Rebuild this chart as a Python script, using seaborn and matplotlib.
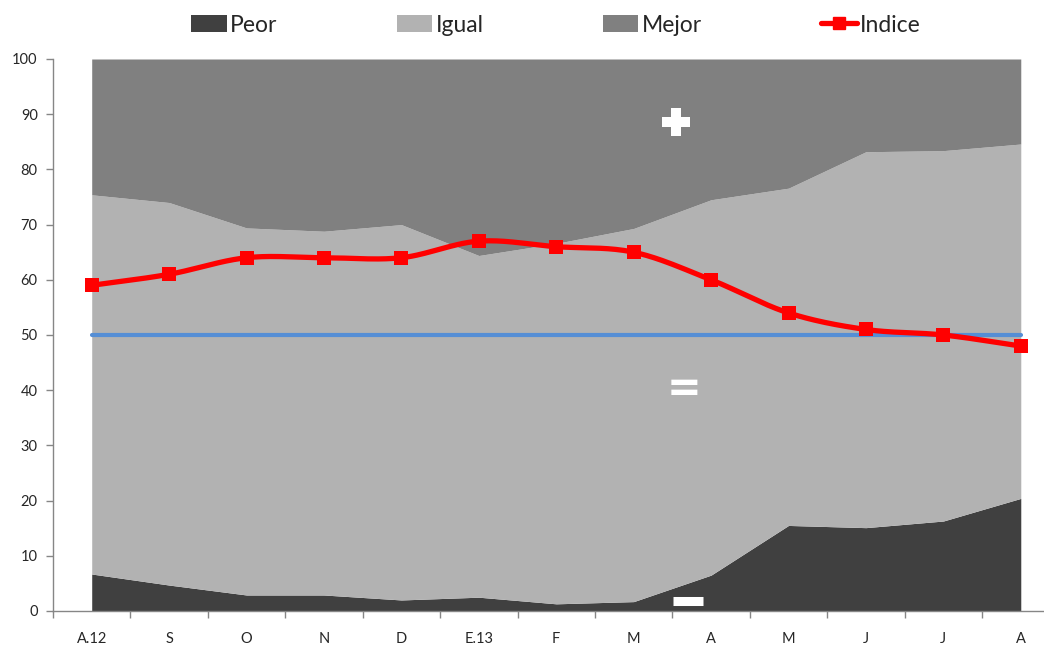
import matplotlib.pyplot as plt
import numpy as np
import seaborn as sns
from matplotlib.lines import Line2D
from matplotlib.patches import Patch

# Data
months = ["A.12", "S", "O", "N", "D", "E.13", "F", "M", "A", "M", "J", "J", "A"]
peor = [6.7, 4.7, 2.9, 2.9, 2.0, 2.5, 1.3, 1.7, 6.5, 15.5, 15.1, 16.3, 20.4]
igual = [68.7, 69.3, 66.5, 65.9, 68.0, 61.9, 65.3, 67.6, 68.0, 61.1, 68.1, 67.1, 64.2]
mejor = [24.6, 26.0, 30.6, 31.2, 30.0, 35.6, 33.4, 30.7, 25.5, 23.4, 16.8, 16.6, 15.4]
indice = [59, 61, 64, 64, 64, 67, 66, 65, 60, 54, 51, 50, 48]
referencia = [50] * len(months)

C_PEOR = "#404040"
C_IGUAL = "#b2b2b2"
C_MEJOR = "#808080"
C_RED = "#ff0000"
C_BLUE = "#558ed5"

sns.set_style("white")
plt.rcParams["font.family"] = ["Lato", "DejaVu Sans"]


def catmull_rom(x, y, n=30):
    """Smooth line through the points, like Excel's 'smoothed line'."""
    x = np.asarray(x, float)
    y = np.asarray(y, float)
    px = np.concatenate([[2 * x[0] - x[1]], x, [2 * x[-1] - x[-2]]])
    py = np.concatenate([[2 * y[0] - y[1]], y, [2 * y[-1] - y[-2]]])
    xs, ys = [], []
    t = np.linspace(0, 1, n, endpoint=False)
    for i in range(1, len(px) - 2):
        for arr, out in ((px, xs), (py, ys)):
            p0, p1, p2, p3 = arr[i - 1], arr[i], arr[i + 1], arr[i + 2]
            out.extend(
                0.5
                * (
                    2 * p1
                    + (-p0 + p2) * t
                    + (2 * p0 - 5 * p1 + 4 * p2 - p3) * t**2
                    + (-p0 + 3 * p1 - 3 * p2 + p3) * t**3
                )
            )
    xs.append(x[-1])
    ys.append(y[-1])
    return np.array(xs), np.array(ys)


x = np.arange(len(months))

fig = plt.figure(figsize=(10.44, 6.48), dpi=100)
ax = fig.add_axes([53 / 1044, 37 / 648, 991 / 1044, 552 / 648])

ax.stackplot(x, peor, igual, mejor, colors=[C_PEOR, C_IGUAL, C_MEJOR], linewidth=0)

sns.lineplot(x=x, y=referencia, ax=ax, color=C_BLUE, linewidth=3, zorder=3)

sx, sy = catmull_rom(x, indice)
sns.lineplot(x=sx, y=sy, ax=ax, color=C_RED, linewidth=3.8, sort=False, zorder=4)
sns.scatterplot(x=x, y=indice, ax=ax, color=C_RED, marker="s", s=115,
                edgecolor=C_RED, linewidth=0, zorder=5)

# white symbols inside the areas (+ mejor, = igual, - peor)
ax.plot(7.55, 88.6, marker="P", markersize=20, color="white",
        markeredgewidth=0, linestyle="none", zorder=6)
ax.text(7.65, 40.3, "=", color="white", fontsize=30, fontweight="bold",
        ha="center", va="center", family="DejaVu Sans", zorder=6)
ax.plot(7.7, 1.9, marker="_", markersize=21, markeredgewidth=6.5,
        color="white", linestyle="none", zorder=6)

ax.set_yticks(range(0, 101, 10))
ax.set_xticks(x)
ax.set_xticklabels(months)
ax.set_xticks(np.arange(-0.5, 12.3, 1), minor=True)
ax.set_xlim(-0.5, 12.3)
ax.set_ylim(0, 100)
ax.tick_params(axis="x", which="major", length=0, pad=15, labelsize=10.5)
ax.tick_params(axis="x", which="minor", length=5, width=1, color="#868686", direction="out")
ax.tick_params(axis="y", length=5, width=1, color="#868686", direction="out", pad=6, labelsize=10.5)
ax.tick_params(axis="x", bottom=True, which="both")
ax.tick_params(axis="y", left=True)

for side in ["top", "right"]:
    ax.spines[side].set_visible(False)
for side in ["left", "bottom"]:
    ax.spines[side].set_color("#868686")
    ax.spines[side].set_linewidth(1)
ax.set_xlabel("")
ax.set_ylabel("")

handles = [
    Patch(facecolor=C_PEOR, edgecolor="none"),
    Patch(facecolor=C_IGUAL, edgecolor="none"),
    Patch(facecolor=C_MEJOR, edgecolor="none"),
    Line2D([0], [0], color=C_RED, linewidth=3.8, marker="s", markersize=9),
]
fig.legend(
    handles,
    ["Peor", "Igual", "Mejor", "Indice"],
    loc="center",
    bbox_to_anchor=(556 / 1044, 1 - 25 / 648),
    ncol=4,
    frameon=False,
    fontsize=16.5,
    handlelength=1.55,
    handleheight=0.8,
    handletextpad=0.15,
    columnspacing=5.2,
)

fig.savefig("out.png", dpi=100)
